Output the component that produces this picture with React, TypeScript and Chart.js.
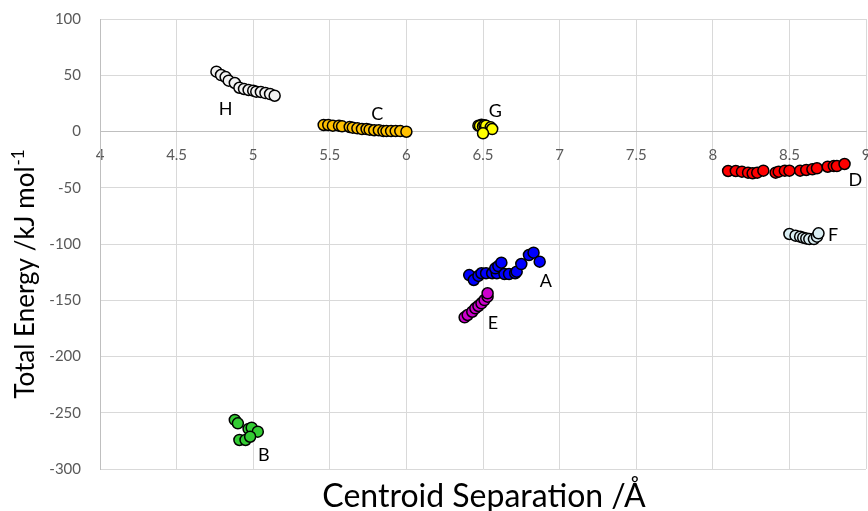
import React, { useEffect, useRef } from "react";
import { Chart, registerables } from "chart.js";

Chart.register(...registerables);

const FONT = "Lato, 'Open Sans', sans-serif";

// Axis ranges / ticks
const X_MIN = 4;
const X_MAX = 9;
const X_STEP = 0.5;
const Y_MIN = -300;
const Y_MAX = 100;
const Y_STEP = 50;

const X_TITLE = "Centroid Separation /Å";
const Y_TITLE_MAIN = "Total Energy /kJ mol";
const Y_TITLE_SUP = "-1";

// Series data (x = centroid separation / Å, y = total energy / kJ mol-1)
const hX = [4.76, 4.79, 4.82, 4.84, 4.88, 4.91, 4.94, 4.97, 5.0, 5.02, 5.05, 5.08, 5.11, 5.14];
const hY = [53.2, 50.2, 48.4, 45.2, 43.1, 38.9, 37.8, 36.9, 36.3, 35.4, 35.1, 34.2, 33.3, 31.8];

const cX = [5.46, 5.49, 5.52, 5.56, 5.58, 5.63, 5.65, 5.68, 5.71, 5.74, 5.76, 5.79, 5.82, 5.85, 5.87, 5.9, 5.93, 5.96, 6.0];
const cY = [5.8, 5.8, 5.2, 5.2, 4.6, 4.0, 3.4, 2.8, 2.2, 2.2, 1.6, 1.1, 1.1, 0.4, 0.4, 0.4, 0.4, 0.4, -0.2];

const gX = [6.47, 6.49, 6.48, 6.5, 6.51, 6.52, 6.55, 6.56, 6.5];
const gY = [5.2, 6.1, 5.0, 4.5, 5.5, 5.2, 3.7, 2.2, -1.6];

const aX = [6.41, 6.44, 6.47, 6.49, 6.52, 6.56, 6.59, 6.58, 6.6, 6.62, 6.64, 6.67, 6.71, 6.72, 6.75, 6.8, 6.83, 6.87];
const aY = [-127.6, -132.0, -128.4, -126.0, -126.0, -126.0, -126.0, -121.6, -119.6, -116.6, -126.7, -126.7, -126.0, -124.6, -117.8, -109.8, -107.7, -115.7];

const eX = [6.38, 6.4, 6.43, 6.45, 6.47, 6.49, 6.51, 6.53, 6.53];
const eY = [-165.2, -163.1, -160.2, -157.2, -155.1, -152.7, -149.8, -146.8, -143.8];

const dX = [8.1, 8.15, 8.19, 8.23, 8.26, 8.29, 8.33, 8.41, 8.43, 8.47, 8.5, 8.57, 8.61, 8.65, 8.68, 8.75, 8.79, 8.81, 8.86];
const dY = [-35.1, -35.1, -35.7, -36.6, -37.2, -36.6, -34.8, -36.6, -35.7, -34.8, -34.8, -34.8, -34.2, -33.6, -32.7, -31.3, -30.7, -30.7, -28.9];

const fX = [8.5, 8.54, 8.57, 8.59, 8.61, 8.63, 8.66, 8.68, 8.69];
const fY = [-91.1, -92.6, -93.5, -94.4, -95.0, -95.6, -95.6, -93.5, -90.5];

const bX = [4.88, 4.9, 4.97, 4.99, 5.03, 4.91, 4.95, 4.98];
const bY = [-256.4, -259.4, -264.4, -263.3, -266.8, -274.2, -274.2, -271.3];

// Cluster labels
const clusterNames = ["H", "C", "G", "A", "E", "D", "F", "B"];
const clusterLabelX = [4.82, 5.81, 6.58, 6.91, 6.565, 8.93, 8.785, 5.07];
const clusterLabelY = [20, 15.6, 18.2, -132.9, -170.2, -43.1, -92, -287.6];

const seriesList = [
  { name: "H", xs: hX, ys: hY, color: "#F2F2F2" },
  { name: "C", xs: cX, ys: cY, color: "#FFC000" },
  { name: "G", xs: gX, ys: gY, color: "#FFFF00" },
  { name: "A", xs: aX, ys: aY, color: "#0000FF" },
  { name: "E", xs: eX, ys: eY, color: "#CC00CC" },
  { name: "D", xs: dX, ys: dY, color: "#FF0000" },
  { name: "F", xs: fX, ys: fY, color: "#DAEEF3" },
  { name: "B", xs: bX, ys: bY, color: "#33CC33" },
];

const textPlugin = {
  id: "customText",
  afterDraw(chart: any) {
    const { ctx, chartArea, scales } = chart;
    ctx.save();
    ctx.fillStyle = "#000";
    ctx.font = `18px ${FONT}`;
    ctx.textAlign = "center";
    ctx.textBaseline = "middle";
    clusterNames.forEach((n, i) => {
      ctx.fillText(
        n,
        scales.x.getPixelForValue(clusterLabelX[i]),
        scales.y.getPixelForValue(clusterLabelY[i])
      );
    });

    ctx.font = `32px ${FONT}`;
    ctx.textBaseline = "alphabetic";
    ctx.fillText(X_TITLE, (chartArea.left + chartArea.right) / 2 + 1, chartArea.bottom + 38);

    ctx.translate(34, (chartArea.top + chartArea.bottom) / 2 + 30);
    ctx.rotate(-Math.PI / 2);
    const mainFont = `26px ${FONT}`;
    const supFont = `17px ${FONT}`;
    ctx.font = mainFont;
    const wm = ctx.measureText(Y_TITLE_MAIN).width;
    ctx.font = supFont;
    const ws = ctx.measureText(Y_TITLE_SUP).width;
    const total = wm + ws + 1;
    ctx.textAlign = "left";
    ctx.font = mainFont;
    ctx.fillText(Y_TITLE_MAIN, -total / 2, 0);
    ctx.font = supFont;
    ctx.fillText(Y_TITLE_SUP, -total / 2 + wm + 1, -10);
    ctx.restore();
  },
};

export default function App() {
  const ref = useRef<HTMLCanvasElement>(null);
  useEffect(() => {
    if (!ref.current) return;
    const chart = new Chart(ref.current, {
      type: "scatter",
      data: {
        datasets: seriesList.map((s) => ({
          label: s.name,
          data: s.xs.map((x, i) => ({ x, y: s.ys[i] })),
          backgroundColor: s.color,
          borderColor: "#000",
          borderWidth: 1.5,
          pointRadius: 5.5,
        })),
      },
      options: {
        animation: false,
        responsive: false,
        layout: { autoPadding: false, padding: { top: 19, right: 2, left: 0, bottom: 42 } },
        plugins: {
          legend: { display: false },
          tooltip: { enabled: false },
        },
        scales: {
          x: {
            type: "linear",
            min: X_MIN,
            max: X_MAX,
            position: { y: 0 },
            ticks: {
              stepSize: X_STEP,
              color: "#595959",
              font: { family: FONT, size: 15 },
              padding: 15,
              callback: (v: any) => String(Number(v)),
            },
            grid: { color: "#D9D9D9", drawTicks: false },
            border: { color: "#BFBFBF", width: 1 },
            afterFit: (scale: any) => {
              scale.paddingLeft = 0;
              scale.paddingRight = 0;
              scale.paddingTop = 0;
              scale.paddingBottom = 0;
            },
          },
          y: {
            type: "linear",
            min: Y_MIN,
            max: Y_MAX,
            position: "left",
            ticks: {
              stepSize: Y_STEP,
              color: "#595959",
              font: { family: FONT, size: 15 },
              padding: 19,
            },
            grid: { color: "#D9D9D9", drawTicks: false },
            border: { color: "#BFBFBF", width: 1 },
            afterFit: (scale: any) => {
              scale.width = 100;
              scale.paddingTop = 0;
              scale.paddingBottom = 0;
            },
          },
        },
      },
      plugins: [textPlugin],
    });
    return () => chart.destroy();
  }, []);
  return (
    <div style={{ position: "fixed", left: 0, top: 0, width: 868, height: 511, background: "#fff" }}>
      <canvas ref={ref} width={868} height={511} />
    </div>
  );
}
